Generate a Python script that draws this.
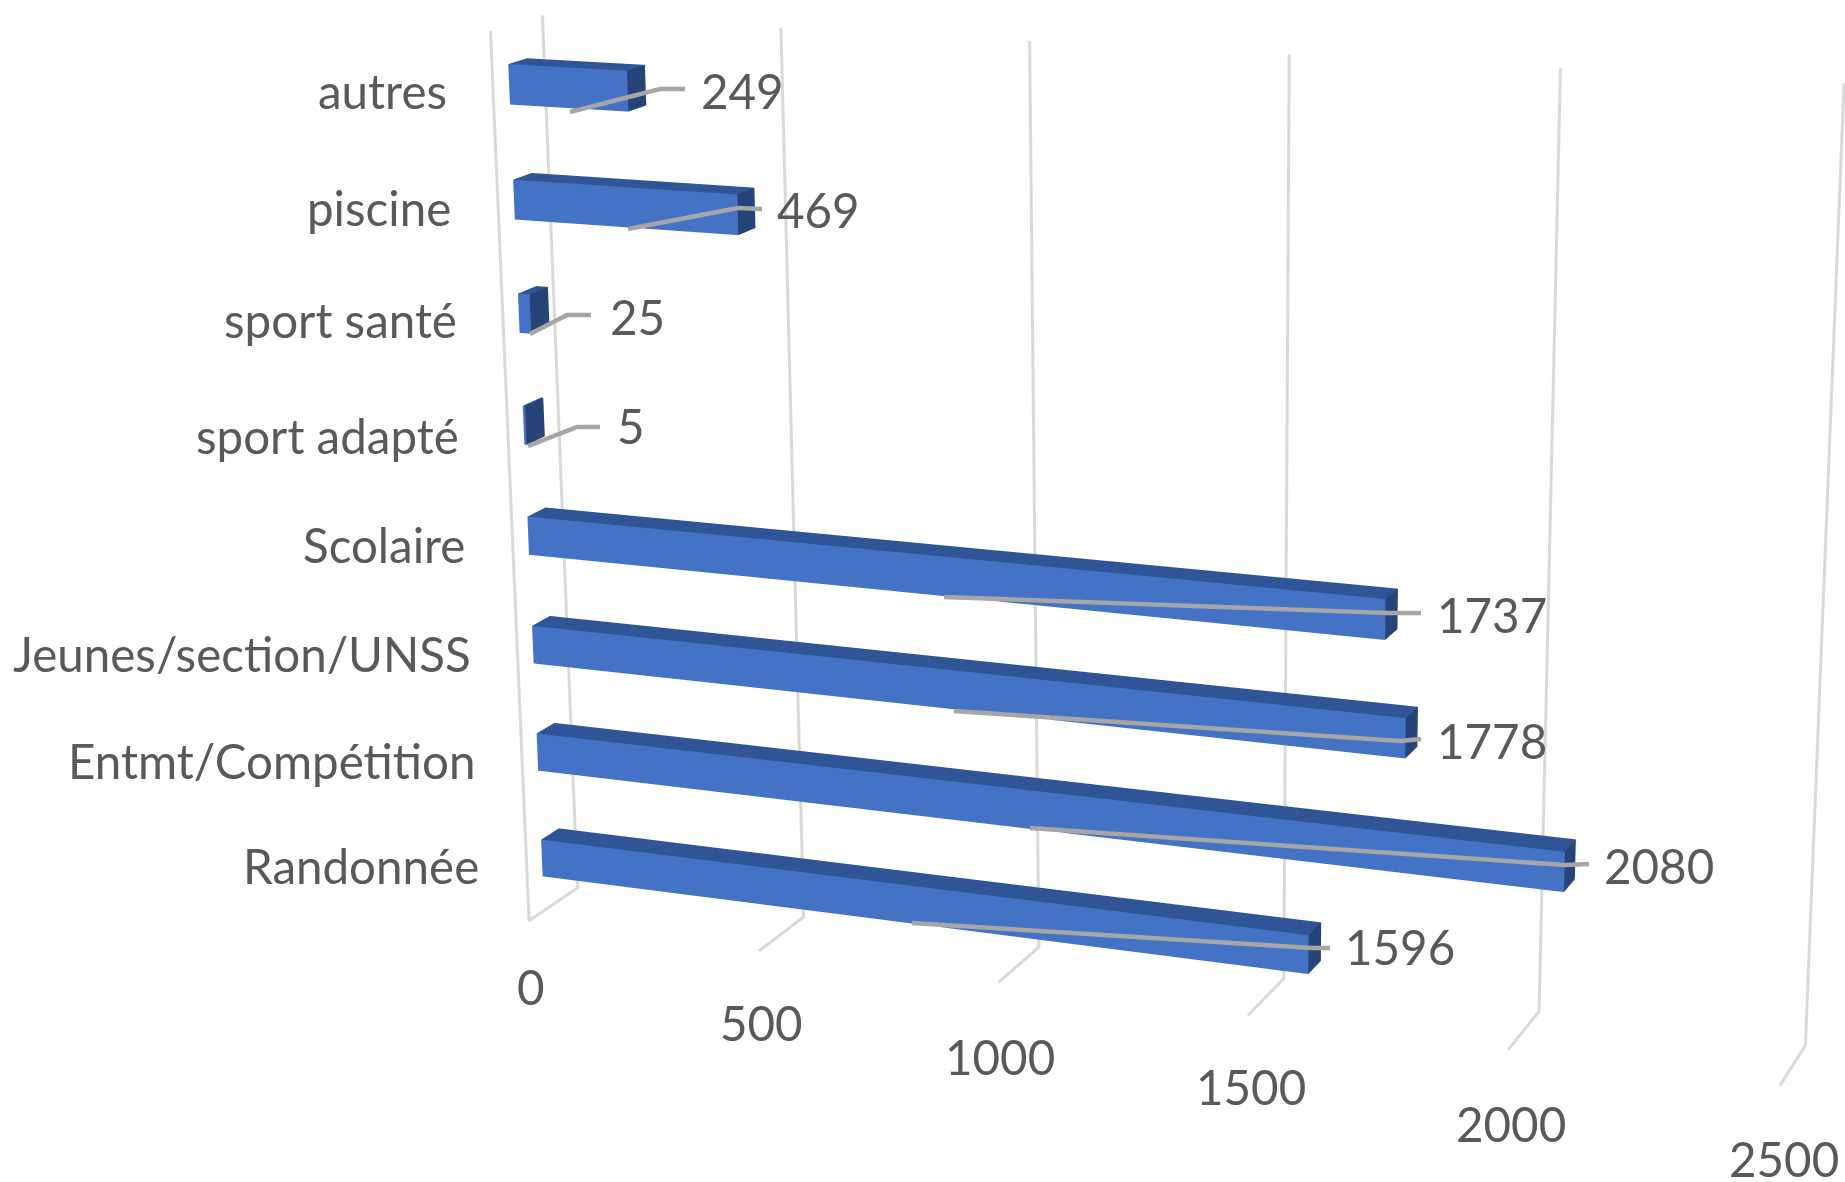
import numpy as np, plotly.graph_objects as go

# ---- chart data ----
categories = ["Randonnée", "Entmt/Compétition", "Jeunes/section/UNSS", "Scolaire",
              "sport adapté", "sport santé", "piscine", "autres"]
values = [1596, 2080, 1778, 1737, 5, 25, 469, 249]
ticks = [0, 500, 1000, 1500, 2000, 2500]

# ---- page and view ----
W, H = 1845, 1182
F = (H / 2) / np.tan(np.pi / 8)
e = np.array([-0.01609, -2.29369, 0.03329])
c = np.array([-0.34532, 0.20513, -0.19636])
up = np.array([0.02197, -0.03491, 1.0])
ay, az = 0.06328, 1.47001
y0, y1, h = 0.30639, 0.66728, 0.17408          # bar depth and half height
kx, kz, kzx = 79.07, 0.21296, -0.00045441      # oblique offsets of the Excel-style 3D box


def S(X, Y, Z):
    return (X + kx * Y, Y, Z + kz * Y + kzx * X)


def basis():
    f = c - e
    f = f / np.linalg.norm(f)
    r = np.cross(f, up)
    r = r / np.linalg.norm(r)
    return f, r, np.cross(r, f)


f_, rt_, u_ = basis()


def back(px, py, Yw):
    """Point of the plane Y=Yw that appears at page position (px, py)."""
    d = f_ * F + rt_ * (px - W / 2) - u_ * (py - H / 2)
    t = ((Yw - .5) * ay - e[1]) / d[1]
    P = e + t * d
    X = (P[0] / 2 + .5) * 2500 - kx * Yw
    Z = (P[2] / az + .5) * 8 - kz * Yw - kzx * X
    return (X, Yw, Z)


fig = go.Figure()


def seg(pts, color, w):
    a = np.array([S(*p) for p in pts])
    fig.add_trace(go.Scatter3d(x=a[:, 0], y=a[:, 1], z=a[:, 2], mode='lines',
                               line=dict(color=color, width=w), hoverinfo='skip', showlegend=False))


# gridlines: back wall and floor
for t in ticks:
    seg([(t, 0, 0), (t, 1, 0), (t, 1, 8)], '#D9D9D9', 6)
seg([(0, 1, 0), (0, 0, 0), (0, 0, 8)], '#D9D9D9', 6)

# bars
for i, v in enumerate(values):
    zl, zh = i + .5 - h, i + .5 + h
    a = np.array([S(0, y0, zl), S(v, y0, zl), S(v, y0, zh), S(0, y0, zh),
                  S(0, y1, zl), S(v, y1, zl), S(v, y1, zh), S(0, y1, zh)])
    tri = [(0, 1, 2), (0, 2, 3), (3, 2, 6), (3, 6, 7), (1, 5, 6), (1, 6, 2)]
    cols = ['#4472C4'] * 2 + ['#2F5597'] * 2 + ['#264478'] * 2
    fig.add_trace(go.Mesh3d(x=a[:, 0], y=a[:, 1], z=a[:, 2],
                            i=[t[0] for t in tri], j=[t[1] for t in tri], k=[t[2] for t in tri],
                            facecolor=cols, flatshading=True,
                            lighting=dict(ambient=1, diffuse=0, specular=0, fresnel=0, roughness=1),
                            hoverinfo='skip', showlegend=False))

# leader lines from the bars to their labels
leaders = [[(912, 923), (1312, 948), (1330, 948)], [(1030, 828), (1565, 865), (1589, 864)],
           [(954, 711), (1400, 741), (1421, 739)], [(944, 597), (1388, 613), (1421, 613)],
           [(528, 446), (577, 427), (600, 427)], [(530, 334), (567, 315), (591, 315)],
           [(628, 229), (738, 208), (762, 209)], [(570, 112), (660, 89), (685, 89)]]
for l in leaders:
    seg([back(a, b, y0 - .02) for a, b in l], '#A6A6A6', 9)

# text
FONT, FS, TC = 'Lato', 47.5, '#595959'
cat_xy = [(481, 865), (478, 760), (473, 653), (467, 544), (461, 435), (459, 319), (453, 207), (449, 90)]
val_xy = [(1400, 946), (1659, 865), (1492, 740), (1492, 615), (631, 425), (637, 317), (818, 210), (742, 90)]
tick_xy = [(531, 986), (761, 1022), (1000, 1056), (1251, 1086), (1511, 1123), (1784, 1158)]
ann = []
for t, (x, y) in zip(categories, cat_xy):
    ann.append(dict(text=t, x=x / W, y=1 - y / H, xanchor='right', yanchor='middle'))
for t, (x, y) in zip(values, val_xy):
    ann.append(dict(text=str(t), x=x / W, y=1 - y / H, xanchor='center', yanchor='middle'))
for t, (x, y) in zip(ticks, tick_xy):
    ann.append(dict(text=str(t), x=x / W, y=1 - y / H, xanchor='center', yanchor='middle'))
for a in ann:
    a.update(xref='paper', yref='paper', showarrow=False, font=dict(family=FONT, size=FS, color=TC))

ax = dict(visible=False, showgrid=False, zeroline=False, showbackground=False, showspikes=False, autorange=False)
fig.update_layout(
    width=W, height=H, margin=dict(l=0, r=0, t=0, b=0), paper_bgcolor='white', annotations=ann, showlegend=False,
    scene=dict(domain=dict(x=[0, 1], y=[0, 1]), dragmode='orbit',
               xaxis={**ax, 'range': [-1000, 3500]}, yaxis={**ax, 'range': [-.5, 1.5]}, zaxis={**ax, 'range': [-8, 16]},
               aspectmode='manual', aspectratio=dict(x=2 * 4500 / 2500, y=ay * 2, z=az * 3),
               camera=dict(eye=dict(x=e[0], y=e[1], z=e[2]), center=dict(x=c[0], y=c[1], z=c[2]),
                           up=dict(x=up[0], y=up[1], z=up[2]), projection=dict(type='perspective'))))
fig.write_html("out.html", config={'displayModeBar': False},
               post_script="document.body.style.margin='0';document.documentElement.style.overflow='hidden';")
